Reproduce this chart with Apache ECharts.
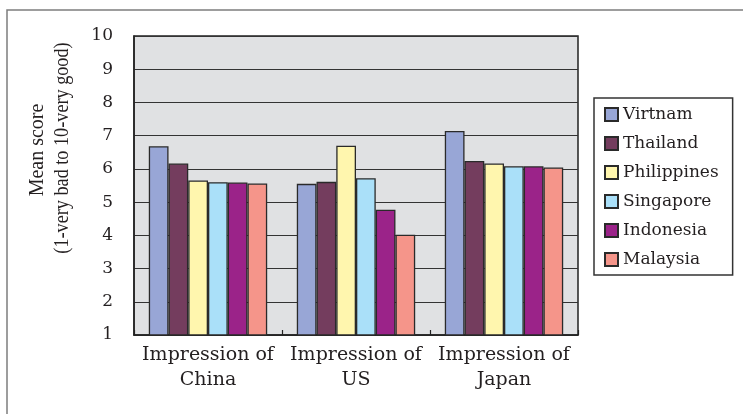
<!DOCTYPE html>
<html>
<head>
<meta charset="utf-8">
<script src="https://cdn.jsdelivr.net/npm/echarts@6/dist/echarts.min.js"></script>
<style>
  html, body { margin: 0; padding: 0; background: #ffffff; }
  #chart { width: 743px; height: 414px; }
</style>
</head>
<body>
<div id="chart"></div>
<script>
// Mean impression scores by respondent country
const categories = ['Impression of\nChina', 'Impression of\nUS', 'Impression of\nJapan'];
const countries = ['Virtnam', 'Thailand', 'Philippines', 'Singapore', 'Indonesia', 'Malaysia'];
const virtnam     = [6.68, 5.55, 7.14];
const thailand    = [6.16, 5.61, 6.24];
const philippines = [5.65, 6.70, 6.16];
const singapore   = [5.60, 5.72, 6.08];
const indonesia   = [5.59, 4.77, 6.08];
const malaysia    = [5.56, 4.02, 6.04];
const yTicks = [1, 2, 3, 4, 5, 6, 7, 8, 9, 10];
const yTitle = ['Mean score', '(1-very bad to 10-very good)'];

const seriesValues = [virtnam, thailand, philippines, singapore, indonesia, malaysia];
const colors = ['#98a6d6', '#743d5e', '#fff6ae', '#aae0f9', '#9b2389', '#f5958a'];
const ink = '#231f20';

const chart = echarts.init(document.getElementById('chart'), null, { renderer: 'canvas' });

chart.setOption({
  animation: false,
  color: colors,
  textStyle: { fontFamily: 'DejaVu Serif', color: ink },
  grid: {
    left: 134, top: 36, width: 444, height: 299,
    show: true,
    backgroundColor: '#e0e1e3',
    borderColor: '#222222',
    borderWidth: 1.5
  },
  legend: {
    orient: 'vertical',
    left: 594, top: 98,
    padding: [8, 14, 7, 10],
    backgroundColor: '#ffffff',
    borderColor: '#333333',
    borderWidth: 1.5,
    icon: 'rect',
    itemWidth: 13, itemHeight: 13,
    itemGap: 12,
    itemTextGap: 9,
    textStyle: { fontFamily: 'DejaVu Serif', fontSize: 17, color: ink },
    data: countries
  },
  xAxis: {
    type: 'category',
    data: categories,
    axisLine: { lineStyle: { color: '#222222', width: 1.5 } },
    axisTick: { show: true, inside: true, length: 5, lineStyle: { color: '#222222', width: 1.2 } },
    axisLabel: {
      fontFamily: 'DejaVu Serif', fontSize: 19, color: ink,
      lineHeight: 25, margin: 8, interval: 0
    }
  },
  yAxis: {
    type: 'value',
    min: yTicks[0], max: yTicks[yTicks.length - 1], interval: 1,
    axisLine: { show: true, lineStyle: { color: '#222222', width: 1.5 } },
    axisTick: { show: false },
    splitLine: { show: true, lineStyle: { color: '#333333', width: 1.2 } },
    axisLabel: { fontFamily: 'DejaVu Serif', fontSize: 17, color: ink, margin: 21 }
  },
  graphic: [
    {
      type: 'rect', silent: true, z: -10,
      shape: { x: 7, y: 10, width: 800, height: 500 },
      style: { fill: 'none', stroke: '#7d7d7d', lineWidth: 1.5 }
    },
    {
      // first title line, rotated to read upward
      type: 'text', silent: true,
      x: 38, y: 150, rotation: Math.PI / 2,
      style: {
        text: yTitle[0],
        fontFamily: 'Liberation Serif', fontSize: 20,
        fill: ink, align: 'center', verticalAlign: 'middle'
      }
    },
    {
      // second title line, slightly condensed along its length
      type: 'text', silent: true,
      x: 63, y: 148, rotation: Math.PI / 2, scaleX: 0.91,
      style: {
        text: yTitle[1],
        fontFamily: 'Liberation Serif', fontSize: 20,
        fill: ink, align: 'center', verticalAlign: 'middle'
      }
    }
  ],
  series: countries.map((name, i) => ({
    name: name,
    type: 'bar',
    data: seriesValues[i],
    barGap: '0%',
    barCategoryGap: '20%',
    itemStyle: { color: colors[i], borderColor: '#2a2a2a', borderWidth: 1.3 }
  }))
});
</script>
</body>
</html>
